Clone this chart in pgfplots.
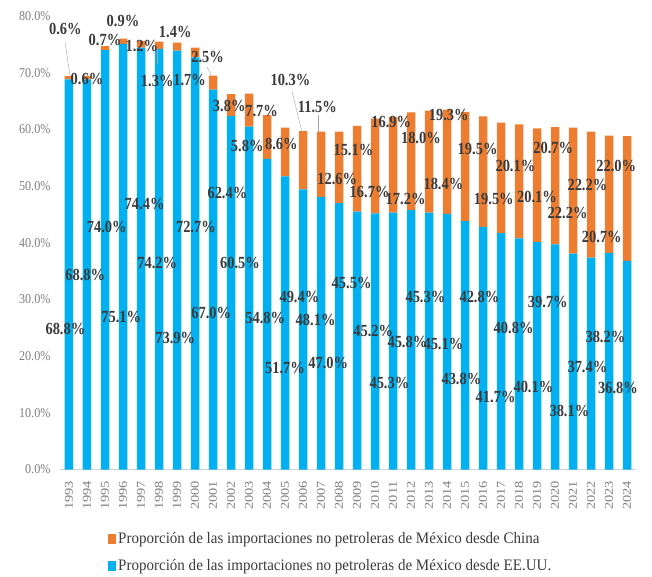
\documentclass[border=0pt]{standalone}
\usepackage{fontspec}
\setmainfont{Liberation Serif}
\newfontfamily\lblfont[FakeStretch=0.85]{Liberation Serif}
\newfontfamily\tickfont[FakeStretch=0.9]{Liberation Serif}
\newfontfamily\yearfont[FakeStretch=1.2]{Liberation Serif}
\newfontfamily\legfont[FakeStretch=0.94]{Liberation Serif}
\usepackage{pgfplots}
\usepackage{pgfplotstable}
\pgfplotsset{compat=1.18}
\definecolor{usblue}{HTML}{00B0F0}
\definecolor{cnorange}{HTML}{ED7D31}
\definecolor{lbl}{HTML}{3A3A3A}
\definecolor{tickgray}{HTML}{7F7F7F}

\pgfplotstableread{
year us cn
1993 68.8 0.6
1994 68.8 0.6
1995 74.0 0.7
1996 75.1 0.9
1997 74.4 1.2
1998 74.2 1.3
1999 73.9 1.4
2000 72.7 1.7
2001 67.0 2.5
2002 62.4 3.8
2003 60.5 5.8
2004 54.8 7.7
2005 51.7 8.6
2006 49.4 10.3
2007 48.1 11.5
2008 47.0 12.6
2009 45.5 15.1
2010 45.2 16.7
2011 45.3 16.9
2012 45.8 17.2
2013 45.3 18.0
2014 45.1 18.4
2015 43.8 19.3
2016 42.8 19.5
2017 41.7 19.5
2018 40.8 20.1
2019 40.1 20.1
2020 39.7 20.7
2021 38.1 22.2
2022 37.4 22.2
2023 38.2 20.7
2024 36.8 22.0
}\shares

% label positions as they sit in the original (scattered)
\pgfplotstableread{
x y v
1992.8 77.7 0.6
1996.0 79.1 0.9
1995.0 75.8 0.7
1997.05 74.7 1.2
1998.9 77.2 1.4
1994.0 68.9 0.6
1997.9 68.5 1.3
1999.7 68.7 1.7
2000.7 72.8 2.5
2001.9 64.1 3.8
2003.7 63.3 7.7
2002.9 57.1 5.8
2004.8 57.4 8.6
2005.3 68.7 10.3
2006.8 64.0 11.5
2001.8 48.8 62.4
1997.2 46.8 74.4
1995.1 42.8 74.0
2000.05 42.8 72.7
2007.9 51.2 12.6
2008.8 56.3 15.1
2010.9 61.3 16.9
2009.7 48.9 16.7
2011.7 47.7 17.2
2012.55 58.5 18.0
2014.1 62.5 19.3
2013.8 50.4 18.4
2015.7 56.5 19.5
2017.8 53.5 20.1
2016.6 47.7 19.5
2019.0 48.1 20.1
2019.9 56.7 20.7
2021.8 50.2 22.2
2020.7 45.2 22.2
2022.6 41.0 20.7
2023.4 53.5 22.0
1993.9 34.3 68.8
1992.8 24.8 68.8
1997.9 36.4 74.2
1995.9 26.9 75.1
1998.9 23.2 73.9
2000.9 27.6 67.0
2002.5 36.4 60.5
2003.9 26.7 54.8
2005.8 30.4 49.4
2006.7 26.4 48.1
2005.0 17.9 51.7
2007.4 18.8 47.0
2008.7 32.9 45.5
2009.9 24.4 45.2
2010.8 15.3 45.3
2011.8 22.5 45.8
2012.8 30.4 45.3
2013.8 22.1 45.1
2014.8 15.9 43.8
2015.8 30.4 42.8
2016.7 12.8 41.7
2017.7 25.0 40.8
2018.8 14.6 40.1
2019.6 29.6 39.7
2020.8 10.3 38.1
2021.8 18.1 37.4
2022.8 23.4 38.2
2023.5 14.4 36.8
}\labels

\begin{document}
\begin{tikzpicture}
\begin{axis}[
    name=main,
    scale only axis,
    width=576pt, height=453.6pt,
    ybar stacked,
    bar width=8.5pt,
    xmin=1992.5, xmax=2024.5,
    ymin=0, ymax=80,
    enlarge x limits=false,
    axis x line*=bottom,
    axis y line*=left,
    y axis line style={draw=none},
    x axis line style={draw=gray!35, line width=0.8pt},
    major tick length=0pt,
    xtick=data,
    ytick={0,10,...,80},
    /pgf/number format/assume math mode=true,
    x tick label style={/pgf/number format/1000 sep={}, rotate=90, anchor=east,
        font=\yearfont\fontsize{12}{12}\selectfont, text=tickgray, xshift=-8pt},
    yticklabel={\pgfmathprintnumber[fixed,fixed zerofill,precision=1]{\tick}\%},
    y tick label style={font=\tickfont\fontsize{13.5}{13.5}\selectfont, text=tickgray, xshift=-6pt},
    reverse legend,
    legend cell align=left,
    legend style={at={(0.47,-0.13)}, anchor=north, draw=none, fill=none,
        font=\legfont\fontsize{16}{16}\selectfont, text=lbl, row sep=10pt,
        nodes={inner xsep=2pt}},
    legend image code/.code={\fill[#1] (0pt,-5pt) rectangle (8pt,5pt);},
]
\addplot[fill=usblue, draw=none] table[x=year, y=us] {\shares};
\addlegendentry{Proporción de las importaciones no petroleras de México desde EE.UU.}
\addplot[fill=cnorange, draw=none] table[x=year, y=cn] {\shares};
\addlegendentry{Proporción de las importaciones no petroleras de México desde China}
\end{axis}

\begin{axis}[
    scale only axis,
    width=576pt, height=453.6pt,
    xmin=1992.5, xmax=2024.5,
    ymin=0, ymax=80,
    hide axis, clip=false,
]
% leader lines
\addplot[gray!70, thin] coordinates {(1992.78,75.4) (1993.06,69.4)};
\addplot[gray!70, thin] coordinates {(1997.9,74.3) (1997.9,71.5)};
\addplot[gray!70, thin] coordinates {(2000.67,71.0) (2000.9,69.6)};
\addplot[gray!70, thin] coordinates {(2005.4,66.6) (2005.94,59.5)};
\addplot[gray!70, thin] coordinates {(2006.83,62.5) (2006.83,59.5)};
\addplot[only marks, mark=none,
    point meta=explicit symbolic,
    nodes near coords={\pgfplotspointmeta\%},
    every node near coord/.append style={anchor=center, inner sep=0pt,
        font=\lblfont\bfseries\fontsize{17}{17}\selectfont, text=lbl}]
    table[x=x, y=y, meta=v] {\labels};
\end{axis}
\path ([shift={(-60pt,-107.4pt)}]main.south west) rectangle ([shift={(16pt,16pt)}]main.north east);
\end{tikzpicture}
\end{document}
